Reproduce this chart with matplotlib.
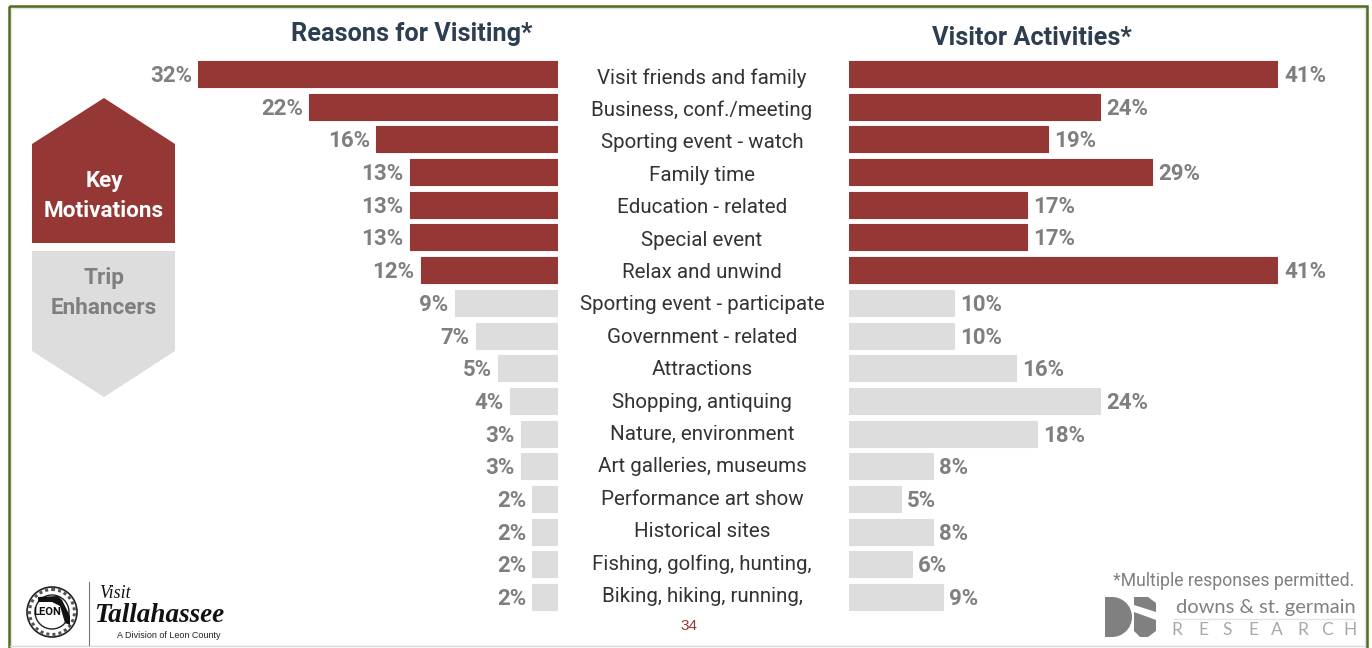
import matplotlib
matplotlib.use("Agg")
import matplotlib.pyplot as plt
from matplotlib.patches import Polygon, Rectangle, Circle, Wedge

categories = ["Visit friends and family", "Business, conf./meeting", "Sporting event - watch",
              "Family time", "Education - related", "Special event", "Relax and unwind",
              "Sporting event - participate", "Government - related", "Attractions",
              "Shopping, antiquing", "Nature, environment", "Art galleries, museums",
              "Performance art show", "Historical sites", "Fishing, golfing, hunting,",
              "Biking, hiking, running,"]
reasons = [32, 22.1, 16.2, 13.2, 13.2, 13.2, 12.2, 9.2, 7.3, 5.3, 4.3, 3.3, 3.3, 2.3, 2.3, 2.3, 2.3]
reason_labels = ["32%", "22%", "16%", "13%", "13%", "13%", "12%", "9%", "7%", "5%", "4%", "3%", "3%", "2%", "2%", "2%", "2%"]
activities = [41, 24, 19, 29, 17, 17, 41, 10, 10, 16, 24, 18, 8, 5, 8, 6, 9]
activity_labels = [f"{v}%" for v in activities]
n_key = 7

RED, GREY, TXT = "#943735", "#dddddd", "#7f7f7f"
NARROW = "Roboto"

W, H = 1372, 648
fig = plt.figure(figsize=(W / 100, H / 100), dpi=100, facecolor="white")
bg = fig.add_axes([0, 0, 1, 1])
bg.set_xlim(0, W); bg.set_ylim(H, 0); bg.axis("off")

# frame
bg.add_patch(Rectangle((10, 7), 1355.5, 650, fc="none", ec="#e4e4e4", lw=2.5))
bg.add_patch(Rectangle((8.5, 6), 1358, 660, fc="none", ec="#4f6f1f", lw=1.8))
bg.plot([10, 1365], [646, 646], color="#d8d8d8", lw=1)

y0, dy, bh = 74.0, 32.69, 26.0
def axes_px(x0, x1):
    top = y0 - dy / 2
    bot = y0 + dy * 16.5
    return fig.add_axes([x0 / W, 1 - bot / H, (x1 - x0) / W, (bot - top) / H])

colors = [RED] * n_key + [GREY] * (len(categories) - n_key)
ypos = list(range(len(categories)))

axL = axes_px(198, 558)
axL.barh(ypos, reasons, height=bh / dy, color=colors, edgecolor=colors, lw=0.8)
for b in axL.patches:
    b.set_joinstyle("round")
axL.set_xlim(32, 0); axL.set_ylim(16.5, -0.5); axL.axis("off")
for y, v, s in zip(ypos, reasons, reason_labels):
    axL.annotate(s, (v, y), xytext=(-6, -2), textcoords="offset pixels", ha="right", va="center",
                 family=NARROW, weight="bold", fontsize=16, color=TXT, annotation_clip=False)

axR = axes_px(849, 1278)
axR.barh(ypos, activities, height=bh / dy, color=colors, edgecolor=colors, lw=0.8)
for b in axR.patches:
    b.set_joinstyle("round")
axR.set_xlim(0, 41); axR.set_ylim(16.5, -0.5); axR.axis("off")
for y, v, s in zip(ypos, activities, activity_labels):
    axR.annotate(s, (v, y), xytext=(6, -2), textcoords="offset pixels", ha="left", va="center",
                 family=NARROW, weight="bold", fontsize=16, color=TXT, annotation_clip=False)

for i, c in enumerate(categories):
    bg.text(702, 78 + 32.4 * i, c, ha="center", va="center", family=NARROW, fontsize=14.8, color="#333333")

bg.text(412, 34, "Reasons for Visiting*", ha="center", va="center", family=NARROW, weight="bold", fontsize=18.2, color="#2c3e50")
bg.text(1032, 38, "Visitor Activities*", ha="center", va="center", family=NARROW, weight="bold", fontsize=18.2, color="#2c3e50")

# arrows
bg.add_patch(Polygon([(104, 98), (175, 144), (175, 243), (32, 243), (32, 144)], fc=RED, ec="none"))
bg.add_patch(Polygon([(32, 251), (175, 251), (175, 351), (104, 397), (32, 351)], fc=GREY, ec="none"))
bg.text(104, 181, "Key", ha="center", va="center", family=NARROW, weight="bold", fontsize=16.2, color="white")
bg.text(104, 211, "Motivations", ha="center", va="center", family=NARROW, weight="bold", fontsize=16.2, color="white")
bg.text(104, 278, "Trip", ha="center", va="center", family=NARROW, weight="bold", fontsize=16.2, color="#7f7f7f")
bg.text(104, 308, "Enhancers", ha="center", va="center", family=NARROW, weight="bold", fontsize=16.2, color="#7f7f7f")

# footer
bg.text(689, 626, "34", ha="center", va="center", family="Liberation Sans", fontsize=11, color="#943735")
bg.text(1354, 581, "*Multiple responses permitted.", ha="right", va="center", family=NARROW, fontsize=12.7, color="#7f7f7f")

# Leon County seal
bg.add_patch(Circle((52, 612), 25, fc="white", ec="#222222", lw=1.2))
bg.add_patch(Circle((52, 612), 22.5, fc="white", ec="#555555", lw=2.2, ls=(0, (1, 1))))
bg.add_patch(Circle((52, 612), 17, fc="white", ec="#222222", lw=1))
bg.add_patch(Polygon([(38, 597), (58, 596), (62, 600), (70, 616), (70, 625), (65, 623), (60, 606), (52, 602), (38, 602)],
                     fc="#111111", ec="none"))
bg.text(47, 612, "LEON", ha="center", va="center", family=NARROW, weight="bold", fontsize=8, color="#111111")
bg.plot([88.5, 88.5], [582, 645], color="#777777", lw=0.8)
bg.text(115, 594, "Visit", ha="center", va="center", family="Liberation Serif", style="italic", fontsize=13, color="#111111")
bg.text(159, 616, "Tallahassee", ha="center", va="center", family="Liberation Serif", style="italic", fontsize=19.5, weight="bold", color="#111111")
bg.text(169, 635, "A Division of Leon County", ha="center", va="center", family="Liberation Sans", fontsize=6.5, color="#222222")

# downs & st. germain logo
bg.add_patch(Wedge((1112, 617), 20, -90, 90, fc="#808080", ec="none"))
bg.add_patch(Rectangle((1105, 597), 7, 40, fc="#808080", ec="none"))
bg.add_patch(Polygon([(1134, 597), (1148, 597), (1156, 603), (1156, 612), (1134, 605)], fc="#808080", ec="none"))
bg.add_patch(Polygon([(1134, 612), (1156, 620), (1156, 631), (1148, 637), (1140, 637), (1134, 631)], fc="#808080", ec="none"))
bg.text(1356, 607, "downs & st. germain", ha="right", va="center", family="Lato", fontsize=14.5, color="#808080")
bg.plot([1174, 1354], [618.5, 618.5], color="#e4e4e4", lw=1)
for ch, x in zip("RESEARCH", [1177, 1203, 1227, 1253, 1277, 1303, 1327, 1350]):
    bg.text(x, 630, ch, ha="center", va="center", family="Lato", fontsize=12.5, color="#a8a8a8")

fig.savefig("out.png", dpi=100)
